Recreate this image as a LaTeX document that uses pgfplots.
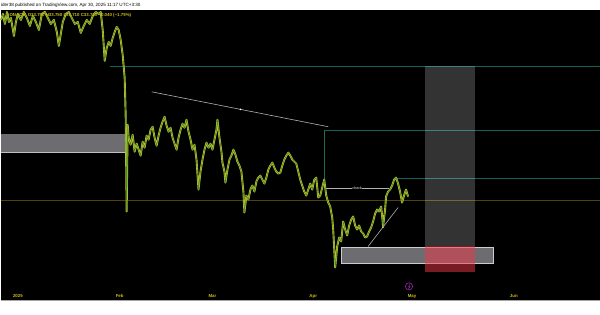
\documentclass[border=0pt]{standalone}
\usepackage{pgfplots}
\pgfplotsset{compat=1.18}
\usepackage{fontspec}
\setmainfont{Liberation Sans}
\definecolor{tvteal}{RGB}{16,100,90}
\definecolor{tvgreen}{RGB}{30,110,60}
\definecolor{tvolive}{RGB}{80,66,8}
\definecolor{tvgrey}{RGB}{108,108,113}
\definecolor{tvred}{RGB}{242,54,69}
\definecolor{tvyellow}{RGB}{205,190,25}
\definecolor{candleY}{RGB}{200,195,40}
\definecolor{candleG}{RGB}{60,140,45}
\definecolor{tvpurple}{RGB}{156,39,176}
\pgfplotstableread{
x py
0 20
2 14
4 24
6 12
8 22
10 18
13 36
15 22
17 14
20 20
23 12
26 18
29 26
32 16
35 22
38 30
41 14
44 12
47 18
50 24
53 20
56 32
58 46
60 34
62 22
65 14
68 12
71 18
74 24
77 22
80 33
83 26
86 20
89 24
92 16
95 12
98 14
100 12
102 30
104 61
106 48
108 42
110 46
112 38
114 32
116 27
118 30
120 40
122 55
124 78
125 115
126 212
127 125
128 138
130 145
132 135
134 152
136 144
138 150
140 156
142 142
144 148
146 136
148 140
150 130
152 127
154 138
156 146
158 136
160 128
162 122
164 117
166 126
168 132
170 128
172 138
174 144
176 150
178 138
180 130
182 124
184 128
186 120
188 132
190 140
192 150
194 145
196 160
198 190
200 172
202 160
204 150
206 143
208 148
210 144
212 150
214 140
216 130
217 120
219 138
221 152
222 163
224 172
225 183
227 170
229 160
231 156
233 150
235 155
237 162
239 166
241 172
243 192
244 213
246 196
248 200
250 190
252 186
254 192
256 182
258 178
260 176
262 180
264 184
266 178
268 170
270 166
272 163
274 168
276 172
278 174
280 173
282 166
284 160
286 156
288 153
290 156
292 160
294 162
296 164
298 172
300 180
302 186
304 192
306 196
308 190
310 184
312 190
314 180
316 178
318 198
320 196
322 188
324 180
326 196
328 203
330 207
332 218
333 230
335 268
337 247
339 238
341 242
343 222
345 230
347 236
349 226
351 220
353 217
355 226
357 230
359 226
361 232
363 234
365 238
367 237
369 232
371 228
373 222
375 214
377 210
379 212
381 207
382 216
383 227
385 210
386 197
388 192
390 190
392 186
394 180
396 178
398 184
400 192
402 203
404 196
406 190
408 197
}\price
\begin{document}
\begin{tikzpicture}
\begin{axis}[scale only axis, width=600bp, height=315bp,
  xmin=0, xmax=600, ymin=0, ymax=315, y dir=reverse,
  hide axis, clip=false]
% background
\fill[white] (0,0) rectangle (600,315);
\fill[black] (0,10) rectangle (600,301);
\draw[gray!70, line width=0.8bp] (0,301.5) -- (600,301.5);
% left grey zone
\fill[tvgrey] (0,134) rectangle (125,153);
\draw[gray!50, line width=0.5bp] (0,153) -- (125,153);
% horizontal levels
\draw[tvolive, line width=0.8bp] (0,200.5) -- (600,200.5);
\draw[tvteal, line width=0.8bp] (109,66.5) -- (600,66.5);
\draw[tvteal, line width=0.8bp] (324,130.5) -- (600,130.5);
\draw[tvgreen, line width=0.8bp] (324.5,130.5) -- (324.5,188);
\draw[tvteal, line width=0.8bp] (397,178.5) -- (600,178.5);
% bottom grey zone
\fill[tvgrey] (341,248) rectangle (493,264);
\draw[gray!40, line width=0.5bp] (341,248) rectangle (493,264);
% position tool
\fill[white, opacity=0.2] (425,66) rectangle (475,247);
\fill[tvred, opacity=0.5] (425,247) rectangle (475,273);
% trend lines
\draw[gray!60, line width=0.6bp] (151,92) -- (328,127);
\fill[white] (240,109.6) circle (0.9bp);
\draw[gray!60, line width=0.6bp] (368,247) -- (398,208);
\fill[white] (383,227.5) circle (0.9bp);
\draw[gray!60, line width=0.6bp] (326,189) -- (389,189);
\node[fill=black, text=white, inner sep=0.6bp, font=\fontsize{3.6}{4}\selectfont] at (357,189) {check};
% price
\addplot[candleY, line width=1.9bp, line join=round] table[x=x, y=py] {\price};
\addplot[candleG, line width=0.6bp, line join=round] table[x=x, y=py] {\price};
% header texts
\node[anchor=west, inner sep=0, font=\fontsize{4.6}{5}\selectfont] at (0,5) {ider38 published on TradingView.com, Apr 30, 2025 11:17 UTC+3:30};
\node[anchor=west, inner sep=0, text=tvyellow, font=\fontsize{4.4}{5}\selectfont\bfseries] at (2,15) {$\cdot$ SONACE\ \ O33.750 H33.750 L33.710 C33.710 −0.040 (−1.79\%)};
% time axis labels
\node[text=tvyellow, inner sep=0, font=\fontsize{4.4}{5}\selectfont\bfseries] at (17,297) {2025};
\node[text=tvyellow, inner sep=0, font=\fontsize{4.4}{5}\selectfont\bfseries] at (119,297) {Feb};
\node[text=tvyellow, inner sep=0, font=\fontsize{4.4}{5}\selectfont\bfseries] at (212,297) {Mar};
\node[text=tvyellow, inner sep=0, font=\fontsize{4.4}{5}\selectfont\bfseries] at (313,297) {Apr};
\node[text=tvyellow, inner sep=0, font=\fontsize{4.4}{5}\selectfont\bfseries] at (412,297) {May};
\node[text=tvyellow, inner sep=0, font=\fontsize{4.4}{5}\selectfont\bfseries] at (514,297) {Jun};
\draw[tvpurple, line width=0.6bp] (409,287) circle (3.6bp);
\draw[tvpurple, line width=0.5bp] (410,285) -- (408.5,287.5) -- (410,287.5) -- (408.5,289.5);
\end{axis}
\end{tikzpicture}
\end{document}
